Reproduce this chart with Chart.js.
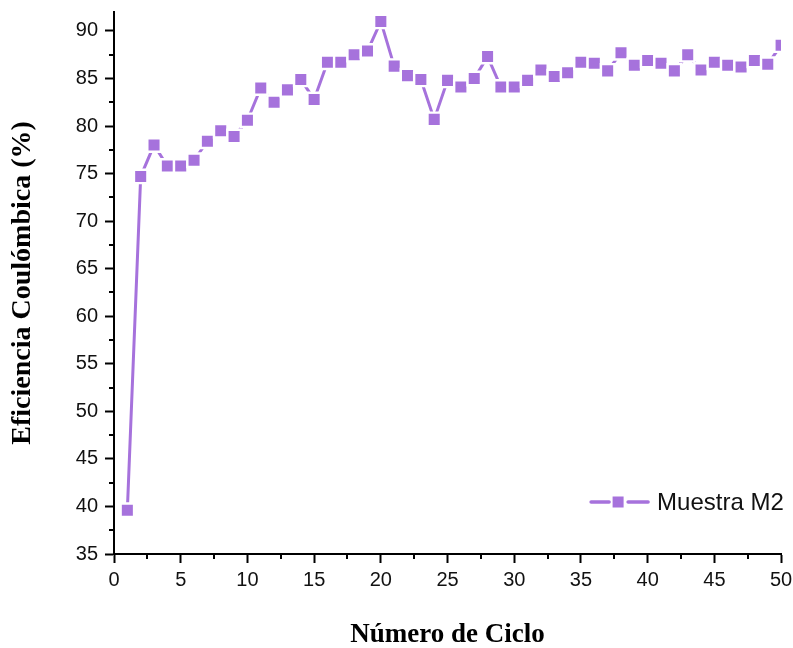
<!DOCTYPE html>
<html>
<head>
<meta charset="utf-8">
<script src="https://cdn.jsdelivr.net/npm/chart.js@4/dist/chart.umd.min.js"></script>
<style>
  html, body { margin: 0; padding: 0; background: #fff; }
  #wrap { width: 793px; height: 648px; position: relative; }
</style>
</head>
<body>
<div id="wrap"><canvas id="c" width="793" height="648"></canvas></div>
<script>
// ---- data ----
const cycles = [1,2,3,4,5,6,7,8,9,10,11,12,13,14,15,16,17,18,19,20,21,22,23,24,25,26,27,28,29,30,31,32,33,34,35,36,37,38,39,40,41,42,43,44,45,46,47,48,49,50];
const efficiencyM2 = [39.6,74.7,78.0,75.8,75.8,76.4,78.4,79.5,78.9,80.6,84.0,82.5,83.8,84.9,82.8,86.7,86.7,87.5,87.9,91.0,86.3,85.3,84.9,80.7,84.8,84.1,85.0,87.3,84.1,84.1,84.8,85.9,85.2,85.6,86.7,86.6,85.8,87.7,86.4,86.9,86.6,85.8,87.5,85.9,86.7,86.4,86.2,86.9,86.5,88.5];
const seriesName = 'Muestra M2';
const xTitle = 'Número de Ciclo';
const yTitle = 'Eficiencia Coulómbica (%)';
const xMinorTicks = [2.5,7.5,12.5,17.5,22.5,27.5,32.5,37.5,42.5,47.5];
const yMinorTicks = [37.5,42.5,47.5,52.5,57.5,62.5,67.5,72.5,77.5,82.5,87.5];

const PURPLE = '#a672dc';
const TICK_FONT = {family: '"Liberation Sans", Arial, sans-serif', size: 20};
const SERIF = '"Liberation Serif", "Times New Roman", serif';

const minorTicks = {
  id: 'minorTicks',
  afterDraw(chart) {
    const ctx = chart.ctx, xs = chart.scales.x, ys = chart.scales.y;
    const a = chart.chartArea;
    ctx.save();
    ctx.strokeStyle = '#000';
    ctx.lineWidth = 2;
    ctx.beginPath();
    xMinorTicks.forEach(v => { const px = Math.round(xs.getPixelForValue(v)); ctx.moveTo(px, a.bottom); ctx.lineTo(px, a.bottom + 5); });
    yMinorTicks.forEach(v => { const py = Math.round(ys.getPixelForValue(v)); ctx.moveTo(a.left, py); ctx.lineTo(a.left - 5, py); });
    ctx.stroke();
    ctx.restore();
  }
};

const legendBox = {
  id: 'legendBox',
  afterDraw(chart) {
    const ctx = chart.ctx, a = chart.chartArea;
    const cx = a.right - 163, cy = a.bottom - 52;
    ctx.save();
    ctx.strokeStyle = PURPLE;
    ctx.lineWidth = 3.5;
    ctx.lineCap = 'round';
    ctx.beginPath();
    ctx.moveTo(cx - 27, cy); ctx.lineTo(cx - 9, cy);
    ctx.moveTo(cx + 10, cy); ctx.lineTo(cx + 30, cy);
    ctx.stroke();
    ctx.fillStyle = PURPLE;
    ctx.fillRect(cx - 5.5, cy - 5.5, 11, 11);
    ctx.fillStyle = '#111';
    ctx.font = '24px "Liberation Sans", Arial, sans-serif';
    ctx.textBaseline = 'middle';
    ctx.textAlign = 'left';
    ctx.fillText(seriesName, cx + 39, cy + 1);
    ctx.restore();
  }
};

function noPad(s) { s.paddingTop = 0; s.paddingBottom = 0; s.paddingLeft = 0; s.paddingRight = 0; }

new Chart(document.getElementById('c'), {
  type: 'line',
  data: {
    labels: cycles,
    datasets: [{
      label: seriesName,
      data: cycles.map((c, i) => ({x: c, y: efficiencyM2[i]})),
      borderColor: PURPLE,
      borderWidth: 3,
      tension: 0,
      pointStyle: 'rect',
      pointRadius: 9.5,
      pointBackgroundColor: PURPLE,
      pointBorderColor: '#ffffff',
      pointBorderWidth: 2.4,
      clip: {left: 10, top: 10, right: 0, bottom: 10}
    }]
  },
  options: {
    responsive: false,
    animation: false,
    events: [],
    layout: {padding: {left: 0, right: 11, top: 11, bottom: 0}},
    plugins: {legend: {display: false}, tooltip: {enabled: false}},
    scales: {
      x: {
        type: 'linear',
        min: 0, max: 50,
        afterFit(s) { s.height = 94; noPad(s); },
        ticks: {stepSize: 5, font: TICK_FONT, color: '#111', padding: 5, maxRotation: 0, includeBounds: false},
        grid: {drawOnChartArea: false, drawTicks: true, tickLength: 9, tickWidth: 2, tickColor: '#000'},
        border: {display: true, color: '#000', width: 2},
        title: {display: true, text: xTitle, font: {family: SERIF, size: 27, weight: 'bold'}, color: '#000', padding: {top: 0, bottom: -3}}
      },
      y: {
        type: 'linear',
        min: 35, max: 92,
        afterFit(s) { s.width = 114; noPad(s); },
        ticks: {stepSize: 5, font: TICK_FONT, color: '#111', padding: 7, includeBounds: false},
        grid: {drawOnChartArea: false, drawTicks: true, tickLength: 9, tickWidth: 2, tickColor: '#000'},
        border: {display: true, color: '#000', width: 2},
        title: {display: true, text: yTitle, font: {family: SERIF, size: 28, weight: 'bold'}, color: '#000', padding: {top: 6, bottom: 0}}
      }
    }
  },
  plugins: [minorTicks, legendBox]
});
</script>
</body>
</html>
